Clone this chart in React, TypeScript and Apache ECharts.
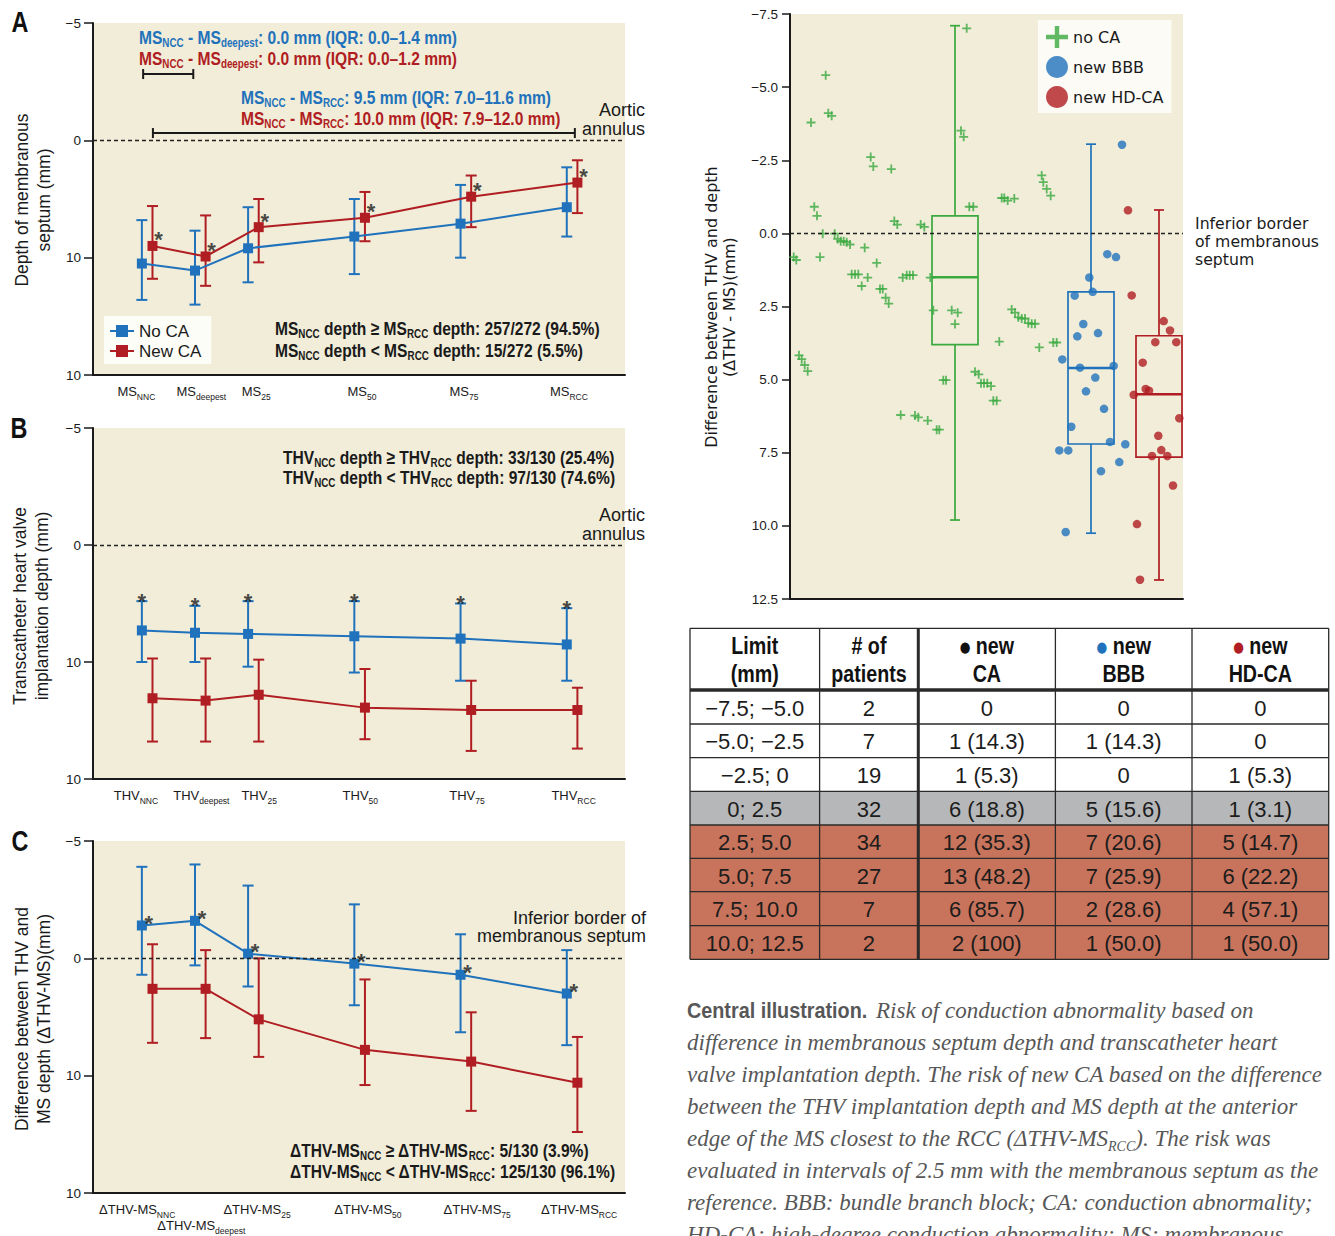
import React, { useEffect, useRef } from 'react';
import * as echarts from 'echarts';

// ======================= DATA =======================
// sites along the membranous septum (x scale of panels A–C)
const siteSubs = ['NNC', 'deepest', '25', '50', '75', 'RCC'];
const sitePositions = [0, 12.5, 25, 50, 75, 100];
const depthTickLabels = ['−5', '0', '10', '10'];

// Panel A – depth of membranous septum (mm)
const msNoCA = [10.5, 11.1, 9.2, 8.2, 7.1, 5.7];
const msNoCALow = [6.8, 7.7, 5.7, 5.0, 3.8, 2.3];
const msNoCAHigh = [13.6, 14.0, 12.1, 11.4, 10.0, 8.2];
const msNewCA = [9.0, 9.9, 7.4, 6.6, 4.8, 3.6];
const msNewCALow = [5.6, 6.4, 5.0, 4.4, 3.0, 1.7];
const msNewCAHigh = [11.8, 12.4, 10.4, 8.6, 7.4, 6.2];
// distance brackets: [from, to, depth]
const msBrackets = [
  [0.3, 12.1, -5.65],
  [2.6, 101.9, -0.62],
];

// Panel B – THV implantation depth (mm)
const thvNoCA = [7.3, 7.5, 7.6, 7.8, 8.0, 8.5];
const thvNoCALow = [4.8, 5.2, 4.8, 4.8, 5.0, 5.4];
const thvNoCAHigh = [10.0, 10.0, 10.4, 10.9, 11.6, 11.6];
const thvNewCA = [13.1, 13.3, 12.8, 13.9, 14.1, 14.1];
const thvNewCALow = [9.7, 9.7, 9.8, 10.6, 11.6, 12.2];
const thvNewCAHigh = [16.8, 16.8, 16.8, 16.6, 17.6, 17.4];

// Panel C – ΔTHV-MS (mm)
const dNoCA = [-2.8, -3.2, -0.4, 0.45, 1.4, 3.0];
const dNoCALow = [-7.8, -8.0, -6.2, -4.6, -2.05, -0.7];
const dNoCAHigh = [1.4, 0.6, 2.4, 4.0, 6.3, 7.4];
const dNewCA = [2.6, 2.6, 5.2, 7.8, 8.8, 10.6];
const dNewCALow = [-1.2, -0.7, 0.0, 1.8, 4.6, 6.7];
const dNewCAHigh = [7.2, 6.8, 8.4, 10.8, 13.0, 14.8];

// Annotation texts
const msDeepestStats = ['MS_{NCC} - MS_{deepest}: 0.0 mm (IQR: 0.0–1.4 mm)', 'MS_{NCC} - MS_{deepest}: 0.0 mm (IQR: 0.0–1.2 mm)'];
const msRccStats = ['MS_{NCC} - MS_{RCC}: 9.5 mm (IQR: 7.0–11.6 mm)', 'MS_{NCC} - MS_{RCC}: 10.0 mm (IQR: 7.9–12.0 mm)'];
const msCounts = ['MS_{NCC} depth ≥ MS_{RCC} depth: 257/272 (94.5%)', 'MS_{NCC} depth < MS_{RCC} depth: 15/272 (5.5%)'];
const thvCounts = ['THV_{NCC} depth ≥ THV_{RCC} depth: 33/130 (25.4%)', 'THV_{NCC} depth < THV_{RCC} depth: 97/130 (74.6%)'];
const dCounts = ['ΔTHV-MS_{NCC} ≥ ΔTHV-MS_{RCC}: 5/130 (3.9%)', 'ΔTHV-MS_{NCC} < ΔTHV-MS_{RCC}: 125/130 (96.1%)'];

// Right panel – ΔTHV-MS_RCC per patient (jitter position, value)
const boxCenters = [165, 301, 369];
const noCABox = [-7.1, -0.6, 1.5, 3.8, 9.8];
const bbbBox = [-3.05, 2.0, 4.6, 7.2, 10.25];
const hdcaBox = [-0.8, 3.5, 5.5, 7.65, 11.85];
const noCAPoints = [
  [3.7, 0.81], [6.3, 0.91], [9, 4.17], [11.7, 4.3], [14.7, 4.5], [17.7, 4.71], [21, -3.79], [24.3, -0.91],
  [27, -0.6], [30, 0.81], [32.7, 0.01], [35.7, -5.41], [38.3, -4.11], [41.7, -4.02], [44.7, 0.01], [47.7, 0.19],
  [50.7, 0.27], [53.7, 0.27], [56.7, 0.3], [60, 0.38], [61.7, 1.4], [65, 1.4], [68.3, 1.4], [71.7, 1.8],
  [74.7, 0.49], [77.7, 1.51], [80.7, -2.61], [83.3, -2.29], [86.7, 1.01], [90, 1.9], [92.7, 1.9], [95.7, 2.2],
  [98.7, 2.4], [101.3, -2.2], [104.3, -0.42], [107.3, -0.3], [110.7, 6.21], [112.7, 1.51], [116.7, 1.43],
  [119.7, 1.43], [123, 1.43], [125, 6.23], [128.3, 6.29], [130.7, -0.3], [134.3, -0.22], [137.7, 6.4],
  [140.3, 1.51], [143.3, 2.63], [146.7, 6.71], [149.3, 6.71], [153.3, 5.02], [156, 5.02], [161.7, 2.63],
  [165, 3.1], [167.7, 2.71], [171, -3.51], [173.7, -3.3], [176.7, -7.01], [179.3, -0.91], [183.3, -0.91],
  [185, 4.73], [188.7, 4.82], [191, 5.12], [194, 5.12], [197.3, 5.12], [201, 5.22], [203.3, 5.72], [206.7, 5.72],
  [209.3, 3.7], [211.7, -1.21], [214.3, -1.21], [217.7, -1.12], [224.3, -1.19], [221.7, 2.6], [225, 2.71],
  [228.3, 2.87], [231.7, 2.91], [235, 2.91], [238.3, 3.07], [241.7, 3.09], [245, 3.09], [249.3, 3.9],
  [251.7, -1.98], [253.3, -1.75], [256.7, -1.52], [260.7, -1.29], [263.3, 3.73], [266.7, 3.73],
];
const bbbPoints = [
  [332, -3.03], [317.3, 0.71], [326, 0.81], [299.3, 1.51], [284.7, 2.13], [302.7, 2.0], [293.3, 3.1],
  [287.3, 3.52], [308, 3.41], [272.3, 4.31], [290, 4.59], [323.7, 4.53], [305.3, 4.93], [296, 5.4], [314, 6.0],
  [281.3, 6.61], [320, 7.13], [335.3, 7.21], [269.3, 7.42], [278.3, 7.42], [329.3, 7.82], [311, 8.13], [275.7, 10.21],
];
const hdcaPoints = [
  [338, -0.79], [341.7, 2.12], [373.7, 3.0], [380, 3.32], [365.3, 3.72], [386.3, 3.72], [352.7, 4.42],
  [355.7, 5.32], [359, 5.38], [343.7, 5.52], [389.3, 6.32], [368.3, 6.92], [371.3, 7.41], [362, 7.61],
  [377.3, 7.61], [383, 8.62], [347, 9.94], [350, 11.84],
];

// Table
const tableHeaders = [
  ['Limit', '(mm)'],
  ['# of', 'patients'],
  ['new', 'CA'],
  ['new', 'BBB'],
  ['new', 'HD-CA'],
];
const limits = ['−7.5; −5.0', '−5.0; −2.5', '−2.5; 0', '0; 2.5', '2.5; 5.0', '5.0; 7.5', '7.5; 10.0', '10.0; 12.5'];
const patients = ['2', '7', '19', '32', '34', '27', '7', '2'];
const newCA = ['0', '1 (14.3)', '1 (5.3)', '6 (18.8)', '12 (35.3)', '13 (48.2)', '6 (85.7)', '2 (100)'];
const newBBB = ['0', '1 (14.3)', '0', '5 (15.6)', '7 (20.6)', '7 (25.9)', '2 (28.6)', '1 (50.0)'];
const newHDCA = ['0', '0', '1 (5.3)', '1 (3.1)', '5 (14.7)', '6 (22.2)', '4 (57.1)', '1 (50.0)'];

const captionTitle = 'Central illustration.';
const captionLines = [
  '{i|Risk of conduction abnormality based on}',
  '{i|difference in membranous septum depth and transcatheter heart}',
  '{i|valve implantation depth. The risk of new CA based on the difference}',
  '{i|between the THV implantation depth and MS depth at the anterior}',
  '{i|edge of the MS closest to the RCC (ΔTHV-MS}{s|RCC}{i|). The risk was}',
  '{i|evaluated in intervals of 2.5 mm with the membranous septum as the}',
  '{i|reference. BBB: bundle branch block; CA: conduction abnormality;}',
  '{i|HD-CA: high-degree conduction abnormality; MS: membranous}',
];

// ======================= STYLE / LAYOUT =======================
const SANS = "'Liberation Sans', Arial, sans-serif";
const DEJAVU = "'DejaVu Sans', Verdana, sans-serif";
const SERIF = "'Liberation Serif', 'Times New Roman', serif";
const CONDENSE = 0.82; // horizontal squeeze emulating a condensed bold face

const BLUE = '#1f72bb';
const RED = '#b01d22';
const GREEN = '#3aa93e';
const BEIGE = '#f1edd9';
const INK = '#1a1a1a';
const GRAY_ROW = '#b6b7b9';
const SALMON = '#c8735b';
const CAPTION = '#575757';

const DODGE = 2.5;
const PLUS = 'path://M4,0L6,0L6,4L10,4L10,6L6,6L6,10L4,10L4,6L0,6L0,4L4,4Z';

const panelGrids = [
  { left: 93, top: 23, width: 532, height: 352 },
  { left: 93, top: 428, width: 532, height: 351 },
  { left: 93, top: 841, width: 532, height: 352 },
];
const boxGrid = { left: 790, top: 14, width: 393, height: 585 };
const xLabelPos = [
  [-1.3, 14.0, 26.9, 51.8, 75.8, 100.5],
  [-1.4, 14.0, 27.6, 51.4, 76.5, 101.6],
  [-1.1, 14.0, 27.1, 53.2, 78.9, 102.9],
];
const xPrefix = ['MS', 'THV', 'ΔTHV-MS'];

const colX = [690, 819.6, 918.3, 1055.4, 1192, 1328.7];
const rowY = [628.3, 690, 724, 757.7, 791.3, 825, 858.3, 891.7, 925.7, 959.3];
const rowFill = ['#ffffff', '#ffffff', '#ffffff', GRAY_ROW, SALMON, SALMON, SALMON, SALMON];
const headerDot = [null, null, '#111111', BLUE, RED];

// ======================= HELPERS =======================
function toRich(s: string) {
  return s
    .split(/(_\{[^}]*\})/)
    .filter((p) => p.length > 0)
    .map((p) => (p.startsWith('_{') ? `{s|${p.slice(2, -1)}}` : `{m|${p}}`))
    .join('');
}
function subRich(family: string, size: number, weight: string, color: string, subSize: number, lh: number) {
  return {
    m: { fontFamily: family, fontSize: size, fontWeight: weight, fill: color, color, lineHeight: lh, verticalAlign: 'middle' },
    s: { fontFamily: family, fontSize: subSize, fontWeight: weight, fill: color, color, lineHeight: lh, verticalAlign: 'bottom' },
  };
}
function richText(x: number, y: number, s: string, rich: any, align = 'left', extra: any = {}) {
  return {
    type: 'text', x, y, z: 100, silent: true, scaleX: CONDENSE,
    style: { text: toRich(s), rich, align, textAlign: align, verticalAlign: 'middle', textVerticalAlign: 'middle', fill: rich.m.fill },
    ...extra,
  };
}
function plain(x: number, y: number, text: string, f: any, align = 'left', extra: any = {}) {
  return {
    type: 'text', x, y, z: 100, silent: true,
    style: {
      text, fontFamily: f.family, fontSize: f.size, fontWeight: f.weight || 'normal', fontStyle: f.style || 'normal',
      fill: f.color || INK, align, textAlign: align, verticalAlign: 'middle', textVerticalAlign: 'middle', lineHeight: f.lh,
    },
    ...extra,
  };
}

function errRender(params: any, api: any) {
  const x = api.value(0);
  const a = api.coord([x, api.value(1)]);
  const b = api.coord([x, api.value(2)]);
  const st = { stroke: api.visual('color'), lineWidth: 2 };
  const cap = 5.5;
  return {
    type: 'group',
    children: [
      { type: 'line', shape: { x1: a[0], y1: a[1], x2: b[0], y2: b[1] }, style: st },
      { type: 'line', shape: { x1: a[0] - cap, y1: a[1], x2: a[0] + cap, y2: a[1] }, style: st },
      { type: 'line', shape: { x1: b[0] - cap, y1: b[1], x2: b[0] + cap, y2: b[1] }, style: st },
    ],
  };
}
function bracketRender(params: any, api: any) {
  const a = api.coord([api.value(0), api.value(2)]);
  const b = api.coord([api.value(1), api.value(2)]);
  const st = { stroke: INK, lineWidth: 2 };
  const t = 5;
  return {
    type: 'group',
    children: [
      { type: 'line', shape: { x1: a[0], y1: a[1], x2: b[0], y2: b[1] }, style: st },
      { type: 'line', shape: { x1: a[0], y1: a[1] - t, x2: a[0], y2: a[1] + t }, style: st },
      { type: 'line', shape: { x1: b[0], y1: b[1] - t, x2: b[0], y2: b[1] + t }, style: st },
    ],
  };
}
function boxRender(params: any, api: any) {
  const x = api.value(0);
  const c = api.visual('color');
  const p = [1, 2, 3, 4, 5].map((k) => api.coord([x, api.value(k)]));
  const half = 23;
  const cap = 5;
  const st = { stroke: c, lineWidth: 1.7, fill: 'none' };
  const cx = p[0][0];
  return {
    type: 'group',
    children: [
      { type: 'line', shape: { x1: cx, y1: p[0][1], x2: cx, y2: p[1][1] }, style: st },
      { type: 'line', shape: { x1: cx, y1: p[3][1], x2: cx, y2: p[4][1] }, style: st },
      { type: 'line', shape: { x1: cx - cap, y1: p[0][1], x2: cx + cap, y2: p[0][1] }, style: st },
      { type: 'line', shape: { x1: cx - cap, y1: p[4][1], x2: cx + cap, y2: p[4][1] }, style: st },
      { type: 'rect', shape: { x: cx - half, y: p[1][1], width: half * 2, height: p[3][1] - p[1][1] }, style: st },
      { type: 'line', shape: { x1: cx - half, y1: p[2][1], x2: cx + half, y2: p[2][1] }, style: { stroke: c, lineWidth: 2.6 } },
    ],
  };
}

const zeroLine = {
  silent: true,
  symbol: ['none', 'none'],
  label: { show: false },
  lineStyle: { type: [4, 3], color: '#222', width: 1.3 },
  emphasis: { disabled: true },
  data: [{ yAxis: 0 }],
};

const xLabelRich = {
  m: { fontFamily: SANS, fontSize: 13, color: INK, lineHeight: 19, verticalAlign: 'middle' },
  s: { fontFamily: SANS, fontSize: 8.5, color: INK, lineHeight: 19, verticalAlign: 'bottom' },
};

// label indexes shown on the main row (panel C puts "deepest" on a second row)
function rowIndexes(gi: number) {
  return gi === 2 ? [0, 2, 3, 4, 5] : [0, 1, 2, 3, 4, 5];
}

function panelXAxis(gi: number, indexes: number[], extra: any = {}) {
  const pos = indexes.map((k) => xLabelPos[gi][k]);
  return {
    type: 'value', gridIndex: gi, min: -11.5, max: 113.7, position: 'bottom',
    axisLine: { show: true, onZero: false, lineStyle: { color: INK, width: 2 } },
    axisTick: { show: false },
    splitLine: { show: false },
    axisLabel: {
      customValues: pos,
      margin: 7,
      showMinLabel: true,
      showMaxLabel: true,
      hideOverlap: false,
      formatter: (v: number) => {
        let idx = 0;
        let best = Infinity;
        pos.forEach((q, k) => {
          const d = Math.abs(q - v);
          if (d < best) { best = d; idx = k; }
        });
        return `{m|${xPrefix[gi]}}{s|${siteSubs[indexes[idx]]}}`;
      },
      rich: xLabelRich,
    },
    ...extra,
  };
}
function panelYAxis(gi: number) {
  return {
    type: 'value', gridIndex: gi, inverse: true, min: -10, max: 20, interval: 10,
    axisLine: { show: true, onZero: false, lineStyle: { color: INK, width: 2 } },
    axisTick: { show: true, length: 9, lineStyle: { color: INK, width: 1.5 } },
    splitLine: { show: false },
    axisLabel: {
      margin: 12, fontFamily: SANS, fontSize: 13.5, color: INK,
      showMinLabel: true, showMaxLabel: true,
      formatter: (v: number) => depthTickLabels[Math.round((v + 10) / 10)],
    },
  };
}

function panelSeries(gi: number, no: number[], noLo: number[], noHi: number[], nw: number[], nwLo: number[], nwHi: number[], star: string) {
  const bluePts = sitePositions.map((p, i) => [p, no[i]]);
  const redPts = sitePositions.map((p, i) => [p + DODGE, nw[i]]);
  let starData = bluePts;
  let starOffset = [7, -2];
  if (star === 'red') { starData = redPts; starOffset = [6, -6]; }
  if (star === 'blueTop') { starData = sitePositions.map((p, i) => [p, noLo[i]]); starOffset = [0, 0]; }
  const common = { xAxisIndex: gi, yAxisIndex: gi };
  return [
    {
      type: 'custom', ...common, silent: true, z: 2, itemStyle: { color: BLUE }, encode: { x: 0, y: [1, 2] },
      renderItem: errRender, data: sitePositions.map((p, i) => [p, noLo[i], noHi[i]]),
    },
    {
      type: 'custom', ...common, silent: true, z: 2, itemStyle: { color: RED }, encode: { x: 0, y: [1, 2] },
      renderItem: errRender, data: sitePositions.map((p, i) => [p + DODGE, nwLo[i], nwHi[i]]),
    },
    {
      type: 'line', name: 'No CA', ...common, z: 3, data: bluePts, symbol: 'rect', symbolSize: 10,
      itemStyle: { color: BLUE }, lineStyle: { color: BLUE, width: 2 }, silent: true, markLine: zeroLine,
    },
    {
      type: 'line', name: 'New CA', ...common, z: 3, data: redPts, symbol: 'rect', symbolSize: 10,
      itemStyle: { color: RED }, lineStyle: { color: RED, width: 2 }, silent: true,
    },
    {
      type: 'scatter', ...common, z: 4, silent: true, data: starData, symbolSize: 1,
      itemStyle: { color: 'rgba(0,0,0,0)' },
      label: {
        show: true, formatter: '*', position: 'inside', offset: starOffset,
        color: INK, fontFamily: SANS, fontSize: 22, fontWeight: 'bold',
      },
    },
  ];
}

function buildOption() {
  const xAxes: any[] = panelGrids.map((_, gi) => panelXAxis(gi, rowIndexes(gi)));
  const yAxes: any[] = panelGrids.map((_, gi) => panelYAxis(gi));
  xAxes.push({
    type: 'value', gridIndex: 3, min: 0, max: 393,
    axisLine: { show: true, onZero: false, lineStyle: { color: INK, width: 2 } },
    axisTick: { show: false }, axisLabel: { show: false }, splitLine: { show: false },
  });
  // second label row of panel C ("deepest")
  const cSecond = panelXAxis(2, [1]);
  cSecond.axisLine = { show: false, onZero: false, lineStyle: { color: INK, width: 2 } };
  cSecond.axisLabel.margin = 23;
  cSecond.offset = 0;
  xAxes.push(cSecond);

  yAxes.push({
    type: 'value', gridIndex: 3, inverse: true, min: -7.5, max: 12.5, interval: 2.5,
    axisLine: { show: true, onZero: false, lineStyle: { color: INK, width: 2 } },
    axisTick: { show: true, length: 8, lineStyle: { color: INK, width: 1.5 } },
    splitLine: { show: false },
    axisLabel: {
      margin: 12, fontFamily: SANS, fontSize: 13.5, color: INK, showMinLabel: true, showMaxLabel: true,
      formatter: (v: number) => (v < 0 ? '−' : '') + Math.abs(v).toFixed(1),
    },
  });

  const series: any[] = [
    ...panelSeries(0, msNoCA, msNoCALow, msNoCAHigh, msNewCA, msNewCALow, msNewCAHigh, 'red'),
    ...panelSeries(1, thvNoCA, thvNoCALow, thvNoCAHigh, thvNewCA, thvNewCALow, thvNewCAHigh, 'blueTop'),
    ...panelSeries(2, dNoCA, dNoCALow, dNoCAHigh, dNewCA, dNewCALow, dNewCAHigh, 'blue'),
    {
      type: 'custom', xAxisIndex: 0, yAxisIndex: 0, silent: true, z: 5, renderItem: bracketRender,
      encode: { x: [0, 1], y: 2 }, data: msBrackets,
    },
    {
      type: 'scatter', name: 'no CA', xAxisIndex: 3, yAxisIndex: 3, symbol: PLUS, symbolSize: 9, z: 3, silent: true,
      itemStyle: { color: GREEN }, data: noCAPoints, markLine: zeroLine,
    },
    {
      type: 'scatter', name: 'new BBB', xAxisIndex: 3, yAxisIndex: 3, symbol: 'circle', symbolSize: 8.5, z: 3, silent: true,
      itemStyle: { color: BLUE }, data: bbbPoints,
    },
    {
      type: 'scatter', name: 'new HD-CA', xAxisIndex: 3, yAxisIndex: 3, symbol: 'circle', symbolSize: 8.5, z: 3, silent: true,
      itemStyle: { color: RED }, data: hdcaPoints,
    },
    ...[noCABox, bbbBox, hdcaBox].map((b, k) => ({
      type: 'custom', xAxisIndex: 3, yAxisIndex: 3, silent: true, z: 2, renderItem: boxRender,
      itemStyle: { color: [GREEN, BLUE, RED][k] }, encode: { x: 0, y: [1, 2, 3, 4, 5] },
      data: [[boxCenters[k], ...b]],
    })),
  ];

  // ---------- graphic ----------
  const g: any[] = [];
  const letterFont = { family: SANS, size: 30, weight: 'bold', color: '#111' };
  g.push(plain(20, 22, 'A', letterFont, 'center', { scaleX: 0.78 }));
  g.push(plain(19, 428, 'B', letterFont, 'center', { scaleX: 0.78 }));
  g.push(plain(20, 841, 'C', letterFont, 'center', { scaleX: 0.78 }));

  const rB = subRich(SANS, 19, 'bold', BLUE, 12, 23);
  const rR = subRich(SANS, 19, 'bold', RED, 12, 23);
  const rK = subRich(SANS, 19, 'bold', INK, 12, 23);
  g.push(richText(139, 37, msDeepestStats[0], rB));
  g.push(richText(139, 58, msDeepestStats[1], rR));
  g.push(richText(241, 97, msRccStats[0], rB));
  g.push(richText(241, 118, msRccStats[1], rR));
  g.push(richText(275, 328, msCounts[0], rK));
  g.push(richText(275, 350, msCounts[1], rK));
  g.push(richText(283, 457, thvCounts[0], rK));
  g.push(richText(283, 477, thvCounts[1], rK));
  g.push(richText(290, 1150, dCounts[0], rK));
  g.push(richText(290, 1171, dCounts[1], rK));

  const noteFont = { family: SANS, size: 18, lh: 19 };
  g.push(plain(645, 119.5, 'Aortic\nannulus', noteFont, 'right'));
  g.push(plain(645, 524.5, 'Aortic\nannulus', noteFont, 'right'));
  g.push(plain(646, 927, 'Inferior border of\nmembranous septum', { family: SANS, size: 18, lh: 18.5 }, 'right'));

  const titleFont = { family: SANS, size: 17.5, lh: 22 };
  g.push(plain(33, 200, 'Depth of membranous\nseptum (mm)', titleFont, 'center', { rotation: Math.PI / 2 }));
  g.push(plain(31, 606, 'Transcatheter heart valve\nimplantation depth (mm)', titleFont, 'center', { rotation: Math.PI / 2 }));
  g.push(plain(33, 1019, 'Difference between THV and\nMS depth (ΔTHV-MS)(mm)', titleFont, 'center', { rotation: Math.PI / 2 }));
  g.push(plain(720, 307, 'Difference between THV and depth\n(ΔTHV - MS)(mm)', { family: DEJAVU, size: 16, lh: 18 }, 'center', { rotation: Math.PI / 2 }));
  g.push(plain(1195, 241, 'Inferior border\nof membranous\nseptum', { family: DEJAVU, size: 15.7, lh: 18 }, 'left'));

  // ---------- table ----------
  const tableRight = colX[colX.length - 1];
  rowFill.forEach((fill, r) => {
    g.push({
      type: 'rect', z: 90, silent: true,
      shape: { x: colX[0], y: rowY[r + 1], width: tableRight - colX[0], height: rowY[r + 2] - rowY[r + 1] },
      style: { fill },
    });
  });
  rowY.forEach((y, i) => {
    g.push({
      type: 'line', z: 95, silent: true,
      shape: { x1: colX[0], y1: y, x2: tableRight, y2: y },
      style: { stroke: '#2a2a2a', lineWidth: i === 1 ? 3.5 : 1.3 },
    });
  });
  colX.forEach((x, j) => {
    g.push({
      type: 'line', z: 95, silent: true,
      shape: { x1: x, y1: rowY[0], x2: x, y2: rowY[rowY.length - 1] },
      style: { stroke: '#2a2a2a', lineWidth: j === 2 ? 3 : 1.3 },
    });
  });
  tableHeaders.forEach((h, j) => {
    const cx = (colX[j] + colX[j + 1]) / 2;
    const dot = headerDot[j];
    const rich = {
      h: { fontFamily: SANS, fontSize: 24, fontWeight: 'bold', fill: '#111', lineHeight: 28 },
      d: { fontFamily: DEJAVU, fontSize: 15, fill: dot || '#111', lineHeight: 28 },
    };
    const text = (dot ? '{d|●}{h| ' + h[0] + '}' : '{h|' + h[0] + '}') + '\n{h|' + h[1] + '}';
    g.push({
      type: 'text', z: 100, silent: true, x: cx, y: (rowY[0] + rowY[1]) / 2 + 1, scaleX: CONDENSE,
      style: { text, rich, align: 'center', textAlign: 'center', verticalAlign: 'middle', textVerticalAlign: 'middle' },
    });
  });
  const cols = [limits, patients, newCA, newBBB, newHDCA];
  cols.forEach((col, j) => {
    const cx = (colX[j] + colX[j + 1]) / 2;
    col.forEach((val, r) => {
      g.push(plain(cx, (rowY[r + 1] + rowY[r + 2]) / 2 + 1, val, { family: SANS, size: 22, color: '#1c1c1c' }, 'center'));
    });
  });

  // ---------- caption ----------
  g.push(plain(687, 1010, captionTitle, { family: SANS, size: 22, weight: 'bold', color: CAPTION }, 'left', { scaleX: 0.9 }));
  const capRich = {
    i: { fontFamily: SERIF, fontSize: 23, fontStyle: 'italic', fill: CAPTION, lineHeight: 30, verticalAlign: 'middle' },
    s: { fontFamily: SERIF, fontSize: 14, fontStyle: 'italic', fill: CAPTION, lineHeight: 30, verticalAlign: 'bottom' },
  };
  captionLines.forEach((line, k) => {
    g.push({
      type: 'text', z: 100, silent: true, x: k === 0 ? 876 : 687, y: 1010 + k * 32,
      style: { text: line, rich: capRich, align: 'left', textAlign: 'left', verticalAlign: 'middle', textVerticalAlign: 'middle' },
    });
  });

  return {
    animation: false,
    backgroundColor: '#ffffff',
    grid: [...panelGrids, boxGrid].map((gr) => ({
      ...gr, show: true, backgroundColor: BEIGE, borderWidth: 0, containLabel: false, outerBoundsMode: 'none',
    })),
    xAxis: xAxes,
    yAxis: yAxes,
    legend: [
      {
        data: ['No CA', 'New CA'], orient: 'vertical', left: 104, top: 316, selectedMode: false,
        itemWidth: 24, itemHeight: 15, itemGap: 2, padding: [6, 10, 4, 5], backgroundColor: '#fdfdf8',
        textStyle: { fontFamily: SANS, fontSize: 17, color: INK, lineHeight: 18 },
      },
      {
        data: [{ name: 'no CA', icon: PLUS }, { name: 'new BBB', icon: 'circle' }, { name: 'new HD-CA', icon: 'circle' }],
        orient: 'vertical', left: 1038, top: 20, selectedMode: false,
        itemWidth: 22, itemHeight: 22, itemGap: 8, padding: [6, 8, 5, 8], backgroundColor: '#fcfbf6',
        textStyle: { fontFamily: DEJAVU, fontSize: 16, color: INK },
      },
    ],
    series,
    graphic: { elements: g },
  };
}

export default function App() {
  const ref = useRef<HTMLDivElement>(null);
  useEffect(() => {
    if (!ref.current) return;
    const chart = echarts.init(ref.current, null, { renderer: 'svg' });
    chart.setOption(buildOption() as any);
    return () => chart.dispose();
  }, []);
  return (
    <div
      ref={ref}
      style={{ position: 'absolute', left: 0, top: 0, width: 1335, height: 1236, background: '#ffffff' }}
    />
  );
}
